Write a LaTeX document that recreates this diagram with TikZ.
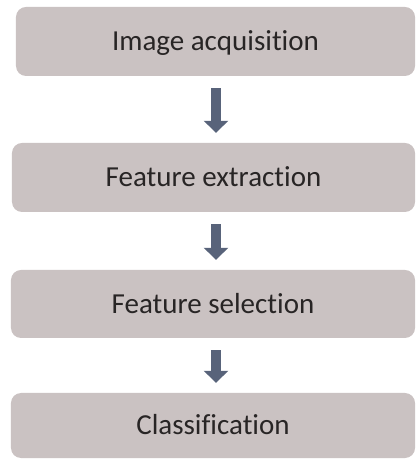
\documentclass[tikz,border=0pt]{standalone}
\usepackage{fontspec}
\setmainfont{Carlito}[Ligatures=NoCommon]
\usetikzlibrary{arrows.meta}
\definecolor{boxfill}{RGB}{202,194,194}
\definecolor{arrowcol}{RGB}{88,99,122}
\definecolor{txtcol}{RGB}{40,37,37}
\begin{document}
\begin{tikzpicture}[x=1bp,y=1bp,
  stepbox/.style={fill=boxfill, rounded corners=10bp, inner sep=0pt,
    font=\fontsize{29bp}{34bp}\selectfont, text=txtcol,
    text height=18.7bp, text depth=0bp},
  flowarrow/.style={draw=arrowcol, line width=10bp,
    -{Triangle[width=24bp,length=12bp]}, shorten <=12bp, shorten >=10bp}]
\useasboundingbox (0,0) rectangle (417,460);
\node[stepbox, minimum width=399bp, minimum height=69bp] (b1) at (215.5,418.5) {Image acquisition};
\node[stepbox, minimum width=403bp, minimum height=69bp] (b2) at (213.5,282.5) {Feature extraction};
\node[stepbox, minimum width=404bp, minimum height=68bp] (b3) at (213,156) {Feature selection};
\node[stepbox, minimum width=404bp, minimum height=65bp] (b4) at (213,34.5) {Classification};
\coordinate (ax) at (216,0);
\draw[flowarrow] (b1.south -| ax) -- (b2.north -| ax);
\draw[flowarrow] (b2.south -| ax) -- (b3.north -| ax);
\draw[flowarrow] (b3.south -| ax) -- (b4.north -| ax);
\end{tikzpicture}
\end{document}
